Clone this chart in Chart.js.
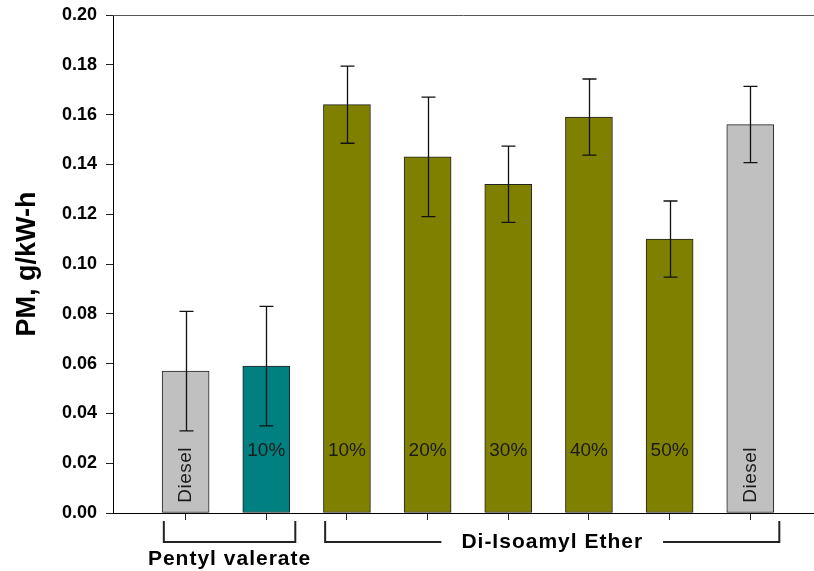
<!DOCTYPE html>
<html>
<head>
<meta charset="utf-8">
<script src="https://cdn.jsdelivr.net/npm/chart.js@4/dist/chart.umd.min.js"></script>
<style>
  html, body { margin: 0; padding: 0; background: #fff; }
  canvas { display: block; }
</style>
</head>
<body>
<canvas id="pmChart" width="814" height="571"></canvas>
<script>
// PM emissions per fuel blend
const positions = [1, 2, 3, 4, 5, 6, 7, 8];
const pmValues = [0.057, 0.059, 0.164, 0.143, 0.132, 0.159, 0.110, 0.156];
const pmErrors = [0.024, 0.024, 0.0155, 0.024, 0.0153, 0.0153, 0.0153, 0.0153];
const barLabels = ['Diesel', '10%', '10%', '20%', '30%', '40%', '50%', 'Diesel'];
const fuelTypes = ['diesel', 'pentyl', 'ether', 'ether', 'ether', 'ether', 'ether', 'diesel'];
const yTicks = [0, 0.02, 0.04, 0.06, 0.08, 0.10, 0.12, 0.14, 0.16, 0.18, 0.20];
const groupNames = ['Pentyl valerate', 'Di-Isoamyl Ether'];
const groupStart = [1, 3];
const groupEnd = [2, 8];

const fuelColors = { diesel: '#c0c0c0', pentyl: '#008080', ether: '#808000' };
const FONT = '"Liberation Sans", Arial, sans-serif';

const extras = {
    id: 'extras',
    afterDatasetsDraw(chart) {
        const ctx = chart.ctx;
        const xs = chart.scales.x;
        const ys = chart.scales.y;
        const area = chart.chartArea;

        // top frame line
        ctx.save();
        ctx.strokeStyle = '#555';
        ctx.lineWidth = 1;
        ctx.beginPath();
        ctx.moveTo(area.left, Math.round(area.top) + 0.5);
        ctx.lineTo(area.right, Math.round(area.top) + 0.5);
        ctx.stroke();
        ctx.restore();

        // error bars
        ctx.save();
        ctx.strokeStyle = '#111';
        ctx.lineWidth = 1.3;
        positions.forEach((p, i) => {
            const x = Math.round(xs.getPixelForValue(p)) + 0.5;
            const yTop = ys.getPixelForValue(pmValues[i] + pmErrors[i]);
            const yBot = ys.getPixelForValue(pmValues[i] - pmErrors[i]);
            ctx.beginPath();
            ctx.moveTo(x, yTop);
            ctx.lineTo(x, yBot);
            ctx.moveTo(x - 7, yTop);
            ctx.lineTo(x + 7, yTop);
            ctx.moveTo(x - 7, yBot);
            ctx.lineTo(x + 7, yBot);
            ctx.stroke();
        });
        ctx.restore();

        // labels inside the bars
        ctx.save();
        ctx.fillStyle = '#1a1a1a';
        ctx.font = '19px ' + FONT;
        ctx.textAlign = 'center';
        ctx.textBaseline = 'middle';
        positions.forEach((p, i) => {
            const x = xs.getPixelForValue(p);
            if (fuelTypes[i] === 'diesel') {
                ctx.save();
                ctx.translate(x, ys.getPixelForValue(0.0153));
                ctx.rotate(-Math.PI / 2);
                ctx.letterSpacing = '0.5px';
                ctx.fillText(barLabels[i], 0, 0);
                ctx.restore();
            } else {
                ctx.fillText(barLabels[i], x, ys.getPixelForValue(0.025));
            }
        });
        ctx.restore();

        // group brackets under the axis
        ctx.save();
        ctx.strokeStyle = '#222';
        ctx.lineWidth = 2;
        ctx.fillStyle = '#000';
        ctx.font = 'bold 21px ' + FONT;
        ctx.letterSpacing = '1px';
        ctx.textAlign = 'center';
        const top = area.bottom + 8;
        const low = area.bottom + 29;
        groupNames.forEach((name, g) => {
            const x0 = xs.getPixelForValue(groupStart[g] - 0.27);
            const x1 = xs.getPixelForValue(groupEnd[g] + 0.36);
            const mid = (x0 + x1) / 2;
            const w = ctx.measureText(name).width;
            ctx.beginPath();
            ctx.moveTo(x0, top);
            ctx.lineTo(x0, low);
            if (w + 40 < x1 - x0) {
                // name sits inside the bracket line
                ctx.lineTo(mid - w / 2 - 20, low);
                ctx.moveTo(mid + w / 2 + 20, low);
                ctx.lineTo(x1, low);
                ctx.lineTo(x1, top);
                ctx.stroke();
                ctx.textBaseline = 'middle';
                ctx.fillText(name, mid, low);
            } else {
                ctx.lineTo(x1, low);
                ctx.lineTo(x1, top);
                ctx.stroke();
                ctx.textBaseline = 'alphabetic';
                ctx.fillText(name, mid, low + 23);
            }
        });
        ctx.restore();

        // y axis title
        ctx.save();
        ctx.fillStyle = '#000';
        ctx.font = 'bold 27px ' + FONT;
        ctx.textAlign = 'center';
        ctx.textBaseline = 'alphabetic';
        ctx.translate(35, (area.top + area.bottom) / 2);
        ctx.rotate(-Math.PI / 2);
        ctx.fillText('PM, g/kW-h', 0, 0);
        ctx.restore();
    }
};

new Chart(document.getElementById('pmChart'), {
    type: 'bar',
    data: {
        datasets: [{
            data: positions.map((p, i) => ({ x: p, y: pmValues[i] })),
            backgroundColor: fuelTypes.map(t => fuelColors[t]),
            borderColor: '#222',
            borderWidth: 1,
            borderSkipped: false,
            barThickness: 47
        }]
    },
    options: {
        responsive: false,
        animation: false,
        devicePixelRatio: 1,
        layout: { padding: { top: 15, right: 0, left: 0, bottom: 0 } },
        plugins: {
            legend: { display: false },
            tooltip: { enabled: false }
        },
        scales: {
            x: {
                type: 'linear',
                min: 0.1,
                max: 8.79,
                offset: false,
                afterFit(scale) {
                    scale.height = 58;
                    scale.paddingLeft = 0;
                    scale.paddingRight = 0;
                },
                afterBuildTicks(scale) { scale.ticks = positions.map(v => ({ value: v })); },
                ticks: { display: false },
                grid: {
                    offset: false,
                    drawOnChartArea: false,
                    drawTicks: true,
                    tickLength: 7,
                    color: '#222'
                },
                border: { display: true, color: '#000', width: 1 }
            },
            y: {
                min: 0,
                max: 0.2,
                afterFit(scale) {
                    scale.width = 113;
                    scale.paddingTop = 0;
                    scale.paddingBottom = 0;
                },
                afterBuildTicks(scale) { scale.ticks = yTicks.map(v => ({ value: v })); },
                ticks: {
                    color: '#000',
                    padding: 9,
                    font: { family: FONT, size: 18, weight: 'bold' },
                    callback: v => v.toFixed(2)
                },
                grid: {
                    drawOnChartArea: false,
                    drawTicks: true,
                    tickLength: 7,
                    color: '#222'
                },
                border: { display: true, color: '#000', width: 1 }
            }
        }
    },
    plugins: [extras]
});
</script>
</body>
</html>
